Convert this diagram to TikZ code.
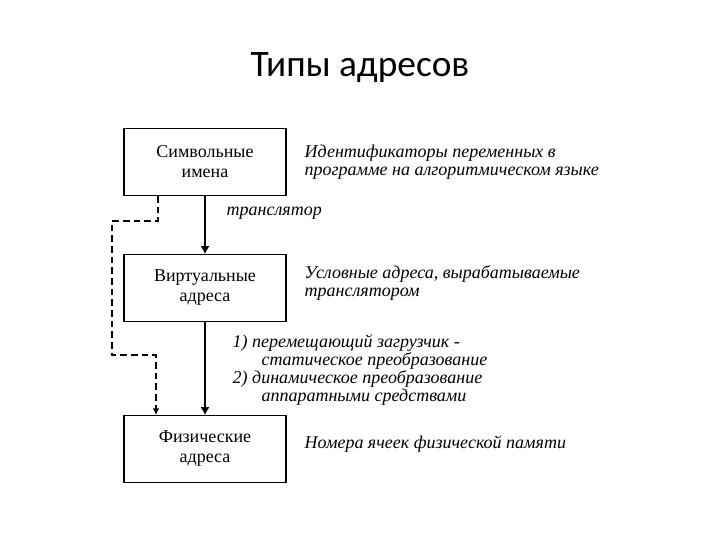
\documentclass[tikz,border=0pt]{standalone}
\usepackage{fontspec}
\setmainfont{Liberation Serif}
\newfontfamily\titlefont{Carlito}
\usetikzlibrary{arrows.meta}
\begin{document}
\begin{tikzpicture}[x=0.75pt,y=-0.75pt,
  box/.style={draw,line width=0.9pt,minimum width=121.5pt,minimum height=50pt,inner sep=0pt,align=center,font=\fontsize{13.5}{15}\selectfont},
  desc/.style={anchor=west,align=left,font=\fontsize{13.5}{13.5}\selectfont\itshape},
  arr/.style={line width=2.2pt,-{Latex[length=6pt,width=7pt]}},
  darr/.style={line width=1pt,dash pattern=on 5pt off 3pt,-{Latex[length=5pt,width=5pt]}}]
\useasboundingbox[fill=white] (0,0) rectangle (720,540);
\node[font=\titlefont\fontsize{28}{30}\selectfont] (title) at (360,68) {Типы адресов};
\node[box] (b1) at (205,162) {Символьные\\имена};
\node[box] (b2) at (205,288) {Виртуальные\\адреса};
\node[box] (b3) at (205,449) {Физические\\адреса};
\node[desc] (d1) at (300,162) {Идентификаторы переменных в\\программе на алгоритмическом языке};
\node[desc] (t1) at (222,213) {транслятор};
\node[desc] (d2) at (300,283) {Условные адреса, вырабатываемые\\транслятором};
\node[desc] (t2) at (228,370) {1) перемещающий загрузчик -\\\hspace*{1.6em}статическое преобразование\\2) динамическое преобразование\\\hspace*{1.6em}аппаратными средствами};
\node[desc] (d3) at (300,444) {Номера ячеек физической памяти};
\draw[arr] (b1.south) -- (b2.north);
\draw[arr] (b2.south) -- (b3.north);
\coordinate (s) at (158,196);
\coordinate (e) at (156,416);
\draw[darr] (b1.south -| s) -- (158,221) -- (112,221) -- (112,355) -- (156,355) -- (b3.north -| e);
\end{tikzpicture}
\end{document}
